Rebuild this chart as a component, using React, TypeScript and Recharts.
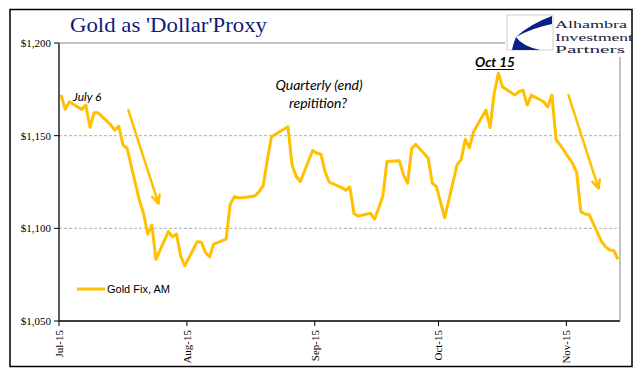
import React from 'react';
import { LineChart, Line, XAxis, YAxis, ReferenceLine, Legend } from 'recharts';

// ---- data ----
const dates = [
  '2015-07-01','2015-07-02','2015-07-03','2015-07-06','2015-07-07','2015-07-08','2015-07-09','2015-07-10',
  '2015-07-13','2015-07-14','2015-07-15','2015-07-16','2015-07-17','2015-07-20','2015-07-21','2015-07-22',
  '2015-07-23','2015-07-24','2015-07-27','2015-07-28','2015-07-29','2015-07-30','2015-07-31',
  '2015-08-03','2015-08-04','2015-08-05','2015-08-06','2015-08-07','2015-08-10','2015-08-11','2015-08-12',
  '2015-08-13','2015-08-14','2015-08-17','2015-08-18','2015-08-19','2015-08-20','2015-08-21','2015-08-24',
  '2015-08-25','2015-08-26','2015-08-27','2015-08-28','2015-08-31',
  '2015-09-01','2015-09-02','2015-09-03','2015-09-04','2015-09-07','2015-09-08','2015-09-09','2015-09-10',
  '2015-09-11','2015-09-14','2015-09-15','2015-09-16','2015-09-17','2015-09-18','2015-09-21','2015-09-22',
  '2015-09-23','2015-09-24','2015-09-25','2015-09-28','2015-09-29','2015-09-30',
  '2015-10-01','2015-10-02','2015-10-05','2015-10-06','2015-10-07','2015-10-08','2015-10-09','2015-10-12',
  '2015-10-13','2015-10-14','2015-10-15','2015-10-16','2015-10-19','2015-10-20','2015-10-21','2015-10-22',
  '2015-10-23','2015-10-26','2015-10-27','2015-10-28','2015-10-29','2015-10-30',
  '2015-11-02','2015-11-03','2015-11-04','2015-11-05','2015-11-06','2015-11-09','2015-11-10','2015-11-11',
  '2015-11-12','2015-11-13',
];

const goldFixAM = [
  1172, 1164.2, 1168.3, 1164.2, 1166.5, 1154.5, 1162.3, 1162.3,
  1156, 1153, 1155.2, 1145, 1143.2, 1115, 1108, 1096.8,
  1101.8, 1083.3, 1098.2, 1095.5, 1096.9, 1085, 1079.8,
  1092.8, 1092.5, 1087, 1084.7, 1091.5, 1094.2, 1113, 1117,
  1116.5, 1116.5, 1117.4, 1119.8, 1123, 1136.9, 1149.4, 1153.5,
  1154.8, 1134.2, 1128, 1125.3, 1142,
  1140.5, 1140, 1130.5, 1125, 1122, 1120.5, 1122.3, 1108,
  1106.6, 1108.1, 1105, 1110.8, 1117.4, 1136, 1136.5, 1128.8,
  1124.3, 1143, 1145.3, 1137.8, 1124.3, 1122.5,
  1114, 1105.7, 1134.2, 1137.2, 1148, 1143.5, 1152.1, 1163.8,
  1154.3, 1172.9, 1183.7, 1176.4, 1171.9, 1173.7, 1174.6, 1166.5,
  1171.9, 1168.3, 1165.6, 1171.9, 1148, 1145,
  1135, 1130, 1109, 1107.7, 1107.5, 1093, 1090, 1088.3,
  1088, 1083.3,
];

const seriesName = 'Gold Fix, AM';
const startDate = '2015-07-01';
const xTickLabels = ['Jul-15', 'Aug-15', 'Sep-15', 'Oct-15', 'Nov-15'];
const xTickDates = ['2015-07-01', '2015-08-01', '2015-09-01', '2015-10-01', '2015-11-01'];
const yTicks = [1050, 1100, 1150, 1200];
const gridValues = [1100, 1150];
const logoLines = ['Alhambra', 'Investment', 'Partners'];

// annotation arrows: [startDay, startValue, endDay, endValue] (fractional day offsets)
const arrows = [
  [16.3, 1163.8, 23.6, 1113.5],
  [123.0, 1171.9, 130.3, 1121.6],
];

const DAY = 86400000;
const dayIndex = (d: string) => Math.round((Date.parse(d) - Date.parse(startDate)) / DAY);
const data = dates.map((d, i) => ({ day: dayIndex(d), value: goldFixAM[i] }));
// Excel date axis: each day occupies a slot; ticks sit on slot boundaries
const xTicks = xTickDates.map((d) => dayIndex(d) - 0.5);
const lastDay = dayIndex(dates[dates.length - 1]);

const GOLD = '#FFC000';
const NAVY = '#101A7A';

const XTick = (props: any) => {
  const { x, y, payload } = props;
  const idx = xTicks.indexOf(payload.value);
  const label = idx >= 0 ? xTickLabels[idx] : '';
  const ty = y + 2;
  return (
    <text
      x={x}
      y={ty}
      transform={`rotate(-90, ${x}, ${ty})`}
      textAnchor="end"
      dy="0.35em"
      fill="#000"
      fontSize={11}
      fontFamily="'Liberation Serif', serif"
    >
      {label}
    </text>
  );
};

const ArrowShape = (props: any) => {
  const { x1, y1, x2, y2 } = props;
  if ([x1, y1, x2, y2].some((v) => typeof v !== 'number' || isNaN(v))) return <g />;
  const ang = Math.atan2(y2 - y1, x2 - x1);
  const len = 9;
  const spread = 0.45;
  const ax = x2 - len * Math.cos(ang - spread);
  const ay = y2 - len * Math.sin(ang - spread);
  const bx = x2 - len * Math.cos(ang + spread);
  const by = y2 - len * Math.sin(ang + spread);
  return (
    <g>
      <line x1={x1} y1={y1} x2={x2} y2={y2} stroke={GOLD} strokeWidth={2.5} strokeLinecap="round" />
      <polyline
        points={`${ax},${ay} ${x2},${y2} ${bx},${by}`}
        fill="none"
        stroke={GOLD}
        strokeWidth={2.5}
        strokeLinecap="round"
        strokeLinejoin="round"
      />
    </g>
  );
};

const LegendContent = (props: any) => {
  const { payload } = props;
  return (
    <div style={{ display: 'flex', alignItems: 'center', height: 16 }}>
      {(payload || []).map((p: any, i: number) => (
        <div key={i} style={{ display: 'flex', alignItems: 'center' }}>
          <svg width={30} height={16} style={{ display: 'block' }}>
            <line x1={0} y1={8} x2={28} y2={8} stroke={GOLD} strokeWidth={3} />
          </svg>
          <span
            style={{
              fontFamily: "'Liberation Sans', Arial, sans-serif",
              fontSize: 11,
              color: '#000',
              whiteSpace: 'nowrap',
            }}
          >
            {p.value}
          </span>
        </div>
      ))}
    </div>
  );
};

const logoWidths = [72, 78, 70];

export default function App() {
  return (
    <div style={{ position: 'absolute', left: 0, top: 0, width: 641, height: 381, background: '#fff' }}>
      <div style={{ position: 'absolute', left: 0, top: 0 }}>
        <LineChart
          width={641}
          height={381}
          data={data}
          margin={{ top: 43, right: 21, bottom: 15, left: 0 }}
        >
          <XAxis
            dataKey="day"
            type="number"
            domain={[-0.5, lastDay + 0.5]}
            ticks={xTicks}
            interval={0}
            allowDataOverflow
            height={45}
            axisLine={{ stroke: '#000', strokeWidth: 1.3 }}
            tickLine={{ stroke: '#000' }}
            tickSize={5}
            tick={<XTick />}
          />
          <YAxis
            type="number"
            domain={[1050, 1200]}
            ticks={yTicks}
            interval={0}
            width={59}
            axisLine={{ stroke: '#000', strokeWidth: 1.3 }}
            tickLine={{ stroke: '#000' }}
            tickSize={5}
            tickMargin={3}
            tickFormatter={(v: number) => '$' + v.toLocaleString('en-US')}
            tick={{ fill: '#000', fontSize: 11, fontFamily: "'Liberation Serif', serif" }}
          />
          {gridValues.map((g) => (
            <ReferenceLine key={g} y={g} stroke="#9a9a9a" strokeDasharray="3 2" strokeWidth={0.8} />
          ))}
          <Line
            type="linear"
            dataKey="value"
            name={seriesName}
            stroke={GOLD}
            strokeWidth={3}
            dot={false}
            activeDot={false}
            strokeLinejoin="round"
            isAnimationActive={false}
          />
          {arrows.map((a, i) => (
            <ReferenceLine
              key={'arr' + i}
              segment={[
                { x: a[0], y: a[1] },
                { x: a[2], y: a[3] },
              ]}
              ifOverflow="visible"
              shape={<ArrowShape />}
            />
          ))}
          <Legend
            layout="horizontal"
            verticalAlign="middle"
            align="center"
            content={<LegendContent />}
            wrapperStyle={{ position: 'absolute', left: 77, top: 281, width: 130, height: 16 }}
          />
        </LineChart>
      </div>
      <svg
        width={641}
        height={381}
        style={{ position: 'absolute', left: 0, top: 0, pointerEvents: 'none' }}
      >
        {/* outer frame */}
        <rect x={10} y={9.5} width={622} height={357} fill="none" stroke="#000" strokeWidth={1.5} />
        {/* plot frame (top & right, partially hidden by logo) */}
        <line x1={59} y1={43} x2={505} y2={43} stroke="#888" strokeWidth={1} />
        <line x1={620} y1={57} x2={620} y2={321} stroke="#888" strokeWidth={1} />
        {/* title */}
        <text
          x={70}
          y={32}
          fill={NAVY}
          fontSize={22}
          fontFamily="'Liberation Serif', serif"
          textLength={197}
          lengthAdjust="spacingAndGlyphs"
        >
          Gold as 'Dollar'Proxy
        </text>
        {/* logo */}
        <rect x={507} y={15} width={46} height={35} fill="#fff" stroke="#d0d0d0" strokeWidth={1} />
        <path d="M 552 16 L 552 24 Q 532 28 516 37 Q 530 24 552 16 Z" fill="#0A1E8C" />
        <path d="M 516 37 Q 513 44 512 50 L 540 50 Q 522 46 516 37 Z" fill="#0A1E8C" />
        <g fill="#1B1B3A" fontFamily="'Liberation Serif', serif" fontSize={11}>
          {logoLines.map((t, i) => (
            <text
              key={t}
              x={555}
              y={28 + i * 12.5}
              textLength={logoWidths[i]}
              lengthAdjust="spacingAndGlyphs"
            >
              {t}
            </text>
          ))}
        </g>
        {/* annotations */}
        <text x={73} y={101} fontSize={12} fontStyle="italic" fontFamily="Lato, 'Open Sans', sans-serif" fill="#000">
          July 6
        </text>
        <text x={319} y={90} textAnchor="middle" fontSize={14} fontStyle="italic" fontFamily="Lato, 'Open Sans', sans-serif" fill="#000">
          Quarterly (end)
        </text>
        <text x={318} y={107.5} textAnchor="middle" fontSize={14} fontStyle="italic" fontFamily="Lato, 'Open Sans', sans-serif" fill="#000">
          repitition?
        </text>
        <text x={495} y={67} textAnchor="middle" fontSize={13.5} fontStyle="italic" fontWeight="bold" fontFamily="Lato, 'Open Sans', sans-serif" fill="#000">
          Oct 15
        </text>
        <line x1={476.5} y1={69.5} x2={514} y2={69.5} stroke="#000" strokeWidth={1.2} />
      </svg>
    </div>
  );
}
